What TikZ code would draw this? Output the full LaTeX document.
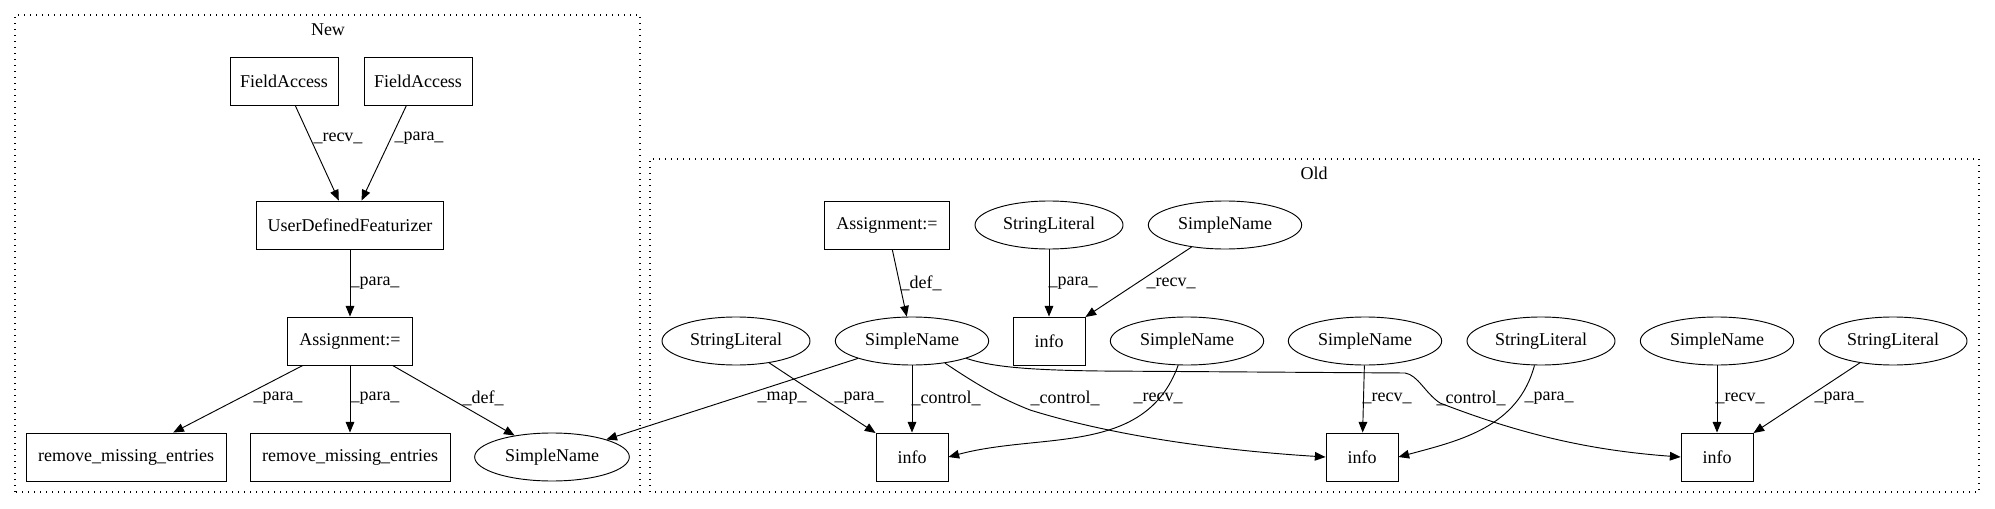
\documentclass[tikz,border=0pt]{standalone}
\usepackage{fontspec}
\setmainfont{Liberation Serif}
\usepackage{tikz}
\usetikzlibrary{arrows.meta,shapes.geometric}

\begin{document}
\begin{tikzpicture}[x=0.75pt,y=0.75pt,>={Triangle[length=8pt,width=6.5pt]},
  font=\fontsize{13.5}{15}\selectfont,
  box/.style={draw,line width=0.7pt,minimum height=36pt,inner sep=2pt},
  oval/.style={draw,ellipse,line width=0.7pt,minimum height=36pt,inner sep=1pt},
  lbl/.style={inner sep=1pt},
  edge/.style={->,line width=0.7pt},
  grp/.style={line width=0.8pt,dash pattern=on 1pt off 3.5pt}]
\useasboundingbox (0,0) rectangle (1995,508);
% clusters
\draw[grp] (15,16) rectangle (640,493);
\node (newlbl) at (328,478) {New};
\draw[grp] (650,16) rectangle (1979,349);
\node (oldlbl) at (1314,335) {Old};
% New
\node[box,minimum width=81pt] (fa1) at (284,427) {FieldAccess};
\node[box,minimum width=81pt] (fa2) at (418,427) {FieldAccess};
\node[box,minimum width=140pt] (udf) at (350,283) {UserDefinedFeaturizer};
\node[box,minimum width=94pt] (asgnew) at (350,167) {Assignment:=};
\node[box,minimum width=150pt] (rme1) at (126,51) {remove\_missing\_entries};
\node[box,minimum width=150pt] (rme2) at (350,51) {remove\_missing\_entries};
\node[oval,minimum width=116pt] (snnew) at (552,51) {SimpleName};
% Old
\node[box,minimum width=94pt] (asgold) at (887,283) {Assignment:=};
\node[oval,minimum width=111pt] (sltop) at (1049,283) {StringLiteral};
\node[oval,minimum width=115pt] (sntop) at (1225,283) {SimpleName};
\node[box,minimum width=54pt] (infotop) at (1049,167) {info};
\node[oval,minimum width=111pt] (slleft) at (736,167) {StringLiteral};
\node[oval,minimum width=115pt] (snmain) at (912,167) {SimpleName};
\node[oval,minimum width=115pt] (snmid) at (1187,167) {SimpleName};
\node[oval,minimum width=115pt] (sn2) at (1365,167) {SimpleName};
\node[oval,minimum width=111pt] (sl2) at (1541,167) {StringLiteral};
\node[oval,minimum width=115pt] (sn3) at (1717,167) {SimpleName};
\node[oval,minimum width=111pt] (sl3) at (1893,167) {StringLiteral};
\node[box,minimum width=54pt] (info1) at (912,51) {info};
\node[box,minimum width=54pt] (info2) at (1362,51) {info};
\node[box,minimum width=54pt] (info3) at (1717,51) {info};
% edges New
\draw[edge] (fa1) -- (udf) node[lbl] at (338,370) {\_recv\_};
\draw[edge] (fa2) -- (udf) node[lbl] at (419,370) {\_para\_};
\draw[edge] (udf) -- (asgnew) node[lbl] at (375,225) {\_para\_};
\draw[edge] (asgnew) -- (rme1) node[lbl] at (278,110) {\_para\_};
\draw[edge] (asgnew) -- (rme2) node[lbl] at (375,110) {\_para\_};
\draw[edge] (asgnew) -- (snnew) node[lbl] at (483,110) {\_def\_};
% edges Old
\draw[edge] (asgold) -- (snmain) node[lbl] at (921,225) {\_def\_};
\draw[edge] (sltop) -- (infotop) node[lbl] at (1073,225) {\_para\_};
\draw[edge] (sntop) -- (infotop) node[lbl] at (1171,225) {\_recv\_};
\draw[edge] (snmain) -- (snnew) node[lbl] at (782,110) {\_map\_};
\draw[edge] (slleft) -- (info1) node[lbl] at (859,110) {\_para\_};
\draw[edge] (snmain) -- (info1) node[lbl] at (946,110) {\_control\_};
\draw[edge] (snmain) .. controls (985,118) and (1005,108) .. (1030,98)
  .. controls (1120,70) and (1230,57) .. (info2.west) node[lbl] at (1065,110) {\_control\_};
\draw[edge] (snmid) to[out=-110,in=15] (info1.east) node[lbl] at (1158,110) {\_recv\_};
\draw[edge] (snmain) .. controls (990,142) and (1020,138) .. (1100,137) -- (1405,135)
  .. controls (1418,133) and (1425,115) .. (1440,105)
  .. controls (1530,70) and (1600,57) .. (info3.west) node[lbl] at (1471,110) {\_control\_};
\draw[edge] (sn2) -- (info2) node[lbl] at (1387,110) {\_recv\_};
\draw[edge] (sl2) to[out=-105,in=15] (info2.east) node[lbl] at (1549,110) {\_para\_};
\draw[edge] (sn3) -- (info3) node[lbl] at (1740,110) {\_recv\_};
\draw[edge] (sl3) -- (info3) node[lbl] at (1839,110) {\_para\_};
\end{tikzpicture}
\end{document}
